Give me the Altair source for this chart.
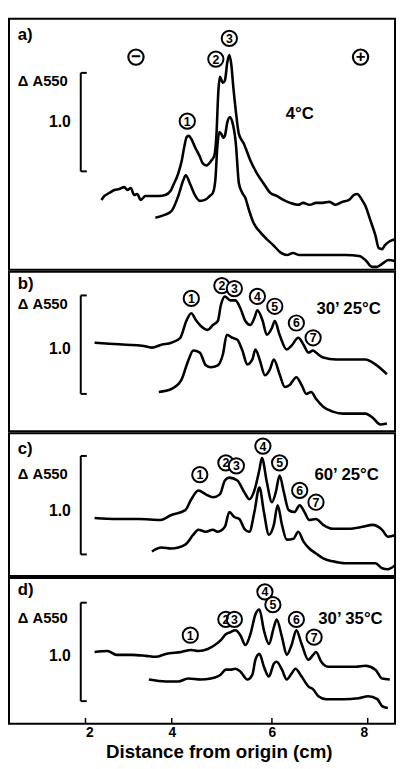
import altair as alt
import pandas as pd

FONT = "Liberation Sans"

# x axis: distance from origin (cm); tick values and where they sit in the scanned figure
X_TICKS = [2, 4, 6, 8]
X_TICK_RANGE = [77.7, 165.3, 267.0, 364.3]

# ---------------- panel a) 4°C ----------------
A_UP_X = [2.37, 2.44, 2.55, 2.67, 2.78, 2.90, 2.97, 3.05, 3.13, 3.20, 3.28, 3.39, 3.54, 3.70, 3.85, 3.97,
          4.03, 4.13, 4.20, 4.25, 4.30, 4.34, 4.39, 4.46, 4.56, 4.62, 4.69, 4.79, 4.85, 4.89, 4.93, 4.96,
          5.02, 5.06, 5.11, 5.15, 5.19, 5.23, 5.28, 5.34, 5.44, 5.57, 5.70, 5.83, 5.97, 6.10, 6.24, 6.38,
          6.55, 6.65, 6.79, 6.92, 7.06, 7.20, 7.33, 7.47, 7.61, 7.71, 7.78, 7.88, 7.95, 8.05, 8.16, 8.23,
          8.30, 8.36, 8.46, 8.57]
A_UP_Y = [0.71, 0.75, 0.78, 0.81, 0.82, 0.84, 0.81, 0.83, 0.76, 0.77, 0.71, 0.75, 0.75, 0.75, 0.76, 0.80,
          0.86, 0.98, 1.11, 1.25, 1.35, 1.36, 1.33, 1.25, 1.15, 1.08, 1.06, 1.11, 1.16, 1.35, 1.81, 1.96,
          1.90, 1.92, 2.11, 2.18, 2.08, 1.85, 1.61, 1.38, 1.28, 1.11, 0.98, 0.88, 0.78, 0.75, 0.71, 0.68,
          0.66, 0.68, 0.66, 0.68, 0.68, 0.69, 0.66, 0.69, 0.71, 0.76, 0.77, 0.71, 0.65, 0.51, 0.35, 0.22,
          0.21, 0.25, 0.29, 0.31]
A_LO_X = [3.62, 3.85, 4.00, 4.13, 4.23, 4.28, 4.36, 4.46, 4.56, 4.66, 4.76, 4.82, 4.87, 4.91, 4.95, 4.99,
          5.03, 5.06, 5.11, 5.16, 5.21, 5.28, 5.34, 5.41, 5.47, 5.54, 5.63, 5.77, 5.90, 6.03, 6.17, 6.31,
          6.44, 6.58, 6.85, 7.20, 7.54, 7.82, 7.95, 8.09, 8.19, 8.30, 8.43, 8.57]
A_LO_Y = [0.53, 0.56, 0.60, 0.75, 0.91, 0.96, 0.88, 0.76, 0.70, 0.71, 0.75, 0.78, 0.91, 1.25, 1.40, 1.38,
          1.34, 1.36, 1.50, 1.55, 1.50, 1.28, 0.88, 0.78, 0.73, 0.61, 0.48, 0.38, 0.31, 0.25, 0.18, 0.15,
          0.17, 0.15, 0.15, 0.15, 0.15, 0.14, 0.10, 0.03, 0.03, 0.06, 0.10, 0.09]
A_PEAKS = ["1", "2", "3"]
A_PEAK_X = [4.31, 4.88, 5.15]
A_PEAK_Y = [1.51, 2.14, 2.35]

# ---------------- panel b) 30' 25°C ----------------
B_UP_X = [2.21, 2.55, 2.94, 3.31, 3.54, 3.76, 3.99, 4.17, 4.29, 4.39, 4.48, 4.58, 4.72, 4.82, 4.92, 4.98,
          5.06, 5.17, 5.27, 5.37, 5.47, 5.57, 5.65, 5.71, 5.81, 5.90, 6.00, 6.06, 6.16, 6.31, 6.41, 6.55,
          6.66, 6.76, 6.86, 6.92, 7.07, 7.34, 7.60, 7.95, 8.16, 8.40]
B_UP_Y = [0.90, 0.89, 0.88, 0.87, 0.85, 0.88, 0.90, 0.95, 1.12, 1.20, 1.13, 1.07, 1.03, 1.08, 1.12, 1.28,
          1.37, 1.33, 1.33, 1.25, 1.12, 1.08, 1.15, 1.23, 1.13, 0.98, 1.05, 1.12, 0.98, 0.83, 0.87, 0.95,
          0.88, 0.80, 0.82, 0.80, 0.75, 0.73, 0.73, 0.73, 0.68, 0.58]
B_LO_X = [3.70, 3.99, 4.19, 4.33, 4.43, 4.56, 4.68, 4.78, 4.92, 5.02, 5.10, 5.21, 5.31, 5.41, 5.51, 5.61,
          5.67, 5.76, 5.86, 5.96, 6.04, 6.16, 6.27, 6.37, 6.51, 6.62, 6.72, 6.82, 6.92, 7.07, 7.27, 7.48,
          7.75, 7.95, 8.12, 8.26, 8.40]
B_LO_Y = [0.40, 0.43, 0.52, 0.72, 0.82, 0.80, 0.67, 0.65, 0.67, 0.78, 0.98, 0.95, 0.93, 0.82, 0.68, 0.73,
          0.83, 0.72, 0.57, 0.63, 0.73, 0.58, 0.45, 0.47, 0.55, 0.47, 0.38, 0.40, 0.33, 0.25, 0.20, 0.18,
          0.18, 0.18, 0.13, 0.07, 0.08]
B_PEAKS = ["1", "2", "3", "4", "5", "6", "7"]
B_PEAK_X = [4.39, 5.00, 5.25, 5.71, 6.06, 6.51, 6.86]
B_PEAK_Y = [1.35, 1.48, 1.45, 1.37, 1.27, 1.10, 0.95]

# ---------------- panel c) 60' 25°C ----------------
C_UP_X = [2.21, 2.72, 3.24, 3.74, 3.99, 4.27, 4.39, 4.53, 4.68, 4.82, 4.96, 5.06, 5.15, 5.31, 5.45, 5.55,
          5.65, 5.75, 5.80, 5.90, 6.00, 6.08, 6.16, 6.25, 6.35, 6.47, 6.58, 6.68, 6.78, 6.92, 7.07, 7.27,
          7.60, 7.89, 8.10, 8.30, 8.42, 8.60]
C_UP_Y = [0.59, 0.58, 0.58, 0.57, 0.62, 0.67, 0.78, 0.87, 0.83, 0.80, 0.83, 0.97, 1.00, 0.97, 0.85, 0.78,
          0.87, 1.08, 1.20, 0.95, 0.75, 0.85, 1.02, 0.85, 0.67, 0.65, 0.72, 0.65, 0.57, 0.58, 0.52, 0.48,
          0.48, 0.50, 0.52, 0.47, 0.40, 0.42]
C_LO_X = [3.54, 3.76, 3.99, 4.27, 4.43, 4.53, 4.68, 4.82, 4.92, 5.06, 5.15, 5.25, 5.35, 5.45, 5.55, 5.65,
          5.75, 5.84, 5.94, 6.04, 6.12, 6.21, 6.31, 6.45, 6.55, 6.66, 6.78, 6.92, 7.07, 7.27, 7.54, 7.89,
          8.16, 8.30, 8.42, 8.60]
C_LO_Y = [0.25, 0.29, 0.28, 0.32, 0.42, 0.47, 0.45, 0.47, 0.45, 0.50, 0.65, 0.60, 0.58, 0.48, 0.45, 0.65,
          0.90, 0.65, 0.42, 0.52, 0.72, 0.52, 0.37, 0.38, 0.45, 0.35, 0.28, 0.23, 0.18, 0.15, 0.13, 0.13,
          0.13, 0.08, 0.07, 0.12]
C_PEAKS = ["1", "2", "3", "4", "5", "6", "7"]
C_PEAK_X = [4.56, 5.08, 5.29, 5.82, 6.16, 6.58, 6.92]
C_PEAK_Y = [1.03, 1.15, 1.12, 1.32, 1.15, 0.87, 0.75]

# ---------------- panel d) 30' 35°C ----------------
D_UP_X = [2.21, 2.51, 2.72, 3.08, 3.40, 3.63, 3.86, 4.19, 4.39, 4.53, 4.72, 4.86, 4.98, 5.08, 5.17, 5.27,
          5.37, 5.47, 5.57, 5.67, 5.75, 5.84, 5.94, 6.04, 6.10, 6.21, 6.31, 6.41, 6.51, 6.62, 6.76, 6.86,
          6.92, 7.03, 7.17, 7.48, 7.75, 7.95, 8.16, 8.30, 8.46]
D_UP_Y = [0.73, 0.74, 0.70, 0.70, 0.69, 0.68, 0.71, 0.73, 0.75, 0.74, 0.76, 0.80, 0.85, 0.91, 0.93, 0.95,
          0.90, 0.80, 0.91, 1.11, 1.16, 0.95, 0.81, 0.98, 1.06, 0.88, 0.70, 0.80, 0.95, 0.81, 0.65, 0.70,
          0.73, 0.63, 0.58, 0.58, 0.58, 0.59, 0.55, 0.46, 0.45]
D_LO_X = [3.47, 3.86, 4.13, 4.33, 4.58, 4.78, 4.98, 5.08, 5.17, 5.27, 5.37, 5.51, 5.61, 5.67, 5.75, 5.84,
          5.94, 6.04, 6.10, 6.21, 6.31, 6.41, 6.49, 6.62, 6.76, 6.86, 6.97, 7.13, 7.48, 7.81, 8.01, 8.20,
          8.30, 8.42]
D_LO_Y = [0.45, 0.43, 0.43, 0.46, 0.45, 0.46, 0.50, 0.55, 0.55, 0.56, 0.53, 0.45, 0.50, 0.65, 0.71, 0.58,
          0.48, 0.61, 0.63, 0.55, 0.45, 0.51, 0.56, 0.48, 0.38, 0.35, 0.28, 0.25, 0.25, 0.26, 0.28, 0.25,
          0.18, 0.16]
D_PEAKS = ["1", "2", "3", "4", "5", "6", "7"]
D_PEAK_X = [4.37, 5.08, 5.25, 5.86, 6.02, 6.51, 6.88]
D_PEAK_Y = [0.90, 1.06, 1.06, 1.34, 1.21, 1.06, 0.88]

# panel texts / scale bars (x in cm, y in ΔA550 units above the panel floor)
PANEL_LABELS = ["a)", "b)", "c)", "d)"]
PANEL_LABEL_Y = [2.38, 1.50, 1.29, 1.36]
CONDITIONS = ["4°C", "30’ 25°C", "60’ 25°C", "30’ 35°C"]
COND_X = [6.58, 7.60, 7.56, 7.64]
COND_Y = [1.58, 1.24, 1.03, 1.06]
DA_Y = [1.92, 1.29, 1.04, 1.07]
ONE_Y = [1.50, 0.84, 0.66, 0.69]
BAR_LO = [1.00, 0.38, 0.22, 0.23]
LABEL_X = 0.43
ONE_X = 1.66
BAR_X = 1.89
BAR_SERIF = 0.14
POLES = ["−", "+"]
POLE_X = [3.17, 7.85]
POLE_Y = [2.16, 2.16]

PANEL_H = [255, 162, 145, 148]
W = 392


def make_panel(i, up_x, up_y, lo_x, lo_y, peaks, px, py, bottom):
    H = PANEL_H[i]
    xs = alt.Scale(domain=X_TICKS, range=X_TICK_RANGE)
    ys = alt.Scale(domain=[0, H / 100], nice=False, zero=False)
    if bottom:
        axis = alt.Axis(values=X_TICKS, ticks=False, domain=False, grid=False,
                        labelFont=FONT, labelFontSize=14, labelFontWeight="bold",
                        labelColor="black", labelPadding=2,
                        title="Distance from origin (cm)", titleFont=FONT,
                        titleFontSize=19, titleFontWeight="bold", titleColor="black",
                        titlePadding=3, titleX=213)
    else:
        axis = None

    def X(f):
        return alt.X(f, type="quantitative", scale=xs, axis=axis)

    def Y(f):
        return alt.Y(f, type="quantitative", scale=ys, axis=None)

    traces = pd.DataFrame(
        {"x": list(up_x) + list(lo_x),
         "y": list(up_y) + list(lo_y),
         "trace": ["upper"] * len(up_x) + ["lower"] * len(lo_x)})
    lines = alt.Chart(traces).mark_line(
        color="black", strokeWidth=2.6, interpolate="monotone", clip=True
    ).encode(x=X("x"), y=Y("y"), detail="trace:N")

    lo = BAR_LO[i]
    bar_df = pd.DataFrame({
        "x": [BAR_X, BAR_X, BAR_X],
        "x2": [BAR_X, BAR_X + BAR_SERIF, BAR_X + BAR_SERIF],
        "y": [lo, lo + 1.0, lo],
        "y2": [lo + 1.0, lo + 1.0, lo]})
    bar = alt.Chart(bar_df).mark_rule(color="black", strokeWidth=2).encode(
        x=X("x"), x2="x2", y=Y("y"), y2="y2")

    left_df = pd.DataFrame({"x": [LABEL_X, LABEL_X], "y": [PANEL_LABEL_Y[i], DA_Y[i]],
                            "t": [PANEL_LABELS[i], "Δ A550"], "s": [17, 15]})
    left_txt = alt.Chart(left_df).mark_text(
        align="left", baseline="middle", font=FONT, fontWeight="bold", color="black"
    ).encode(x=X("x"), y=Y("y"), text="t:N",
             size=alt.Size("s:Q", scale=None, legend=None))

    one_df = pd.DataFrame({"x": [ONE_X], "y": [ONE_Y[i]], "t": ["1.0"]})
    one_txt = alt.Chart(one_df).mark_text(
        align="right", baseline="middle", font=FONT, fontWeight="bold",
        fontSize=16, color="black").encode(x=X("x"), y=Y("y"), text="t:N")

    cond_df = pd.DataFrame({"x": [COND_X[i]], "y": [COND_Y[i]], "t": [CONDITIONS[i]]})
    cond_txt = alt.Chart(cond_df).mark_text(
        align="center", baseline="middle", font=FONT, fontWeight="bold",
        fontSize=17, color="black").encode(x=X("x"), y=Y("y"), text="t:N")

    pk_df = pd.DataFrame({"x": px, "y": py, "t": peaks})
    circles = alt.Chart(pk_df).mark_point(
        shape="circle", size=240, filled=True, fill="white", stroke="black",
        strokeWidth=2, opacity=1).encode(x=X("x"), y=Y("y"))
    nums = alt.Chart(pk_df).mark_text(
        align="center", baseline="middle", font=FONT, fontWeight="bold",
        fontSize=12.5, color="black", dy=0.5).encode(x=X("x"), y=Y("y"), text="t:N")

    layers = [lines, bar, left_txt, one_txt, cond_txt, circles, nums]

    if i == 0:
        pole_df = pd.DataFrame({"x": POLE_X, "y": POLE_Y, "t": POLES})
        pc = alt.Chart(pole_df).mark_point(
            shape="circle", size=240, filled=True, fill="white", stroke="black",
            strokeWidth=2.2, opacity=1).encode(x=X("x"), y=Y("y"))
        pt = alt.Chart(pole_df).mark_text(
            align="center", baseline="middle", font=FONT, fontWeight="bold",
            fontSize=17, color="black", dy=-0.5).encode(x=X("x"), y=Y("y"), text="t:N")
        layers += [pc, pt]

    if bottom:
        tick_df = pd.DataFrame({"x": X_TICKS})
        ticks = alt.Chart(tick_df).mark_rule(color="black", strokeWidth=1.5).encode(
            x=X("x"), y=alt.value(H - 6), y2=alt.value(H))
        layers.append(ticks)

    return alt.layer(*layers).properties(width=W, height=H)


pa = make_panel(0, A_UP_X, A_UP_Y, A_LO_X, A_LO_Y, A_PEAKS, A_PEAK_X, A_PEAK_Y, False)
pb = make_panel(1, B_UP_X, B_UP_Y, B_LO_X, B_LO_Y, B_PEAKS, B_PEAK_X, B_PEAK_Y, False)
pc_ = make_panel(2, C_UP_X, C_UP_Y, C_LO_X, C_LO_Y, C_PEAKS, C_PEAK_X, C_PEAK_Y, False)
pd_ = make_panel(3, D_UP_X, D_UP_Y, D_LO_X, D_LO_Y, D_PEAKS, D_PEAK_X, D_PEAK_Y, True)

chart = alt.vconcat(pa, pb, pc_, pd_, spacing=0).properties(
    padding={"left": 0, "top": 4, "right": 0, "bottom": 0}
).configure(font=FONT).configure_view(stroke="black", strokeWidth=2).configure_concat(spacing=0)

chart.save("out.html", embed_options={"renderer": "svg", "actions": False})
